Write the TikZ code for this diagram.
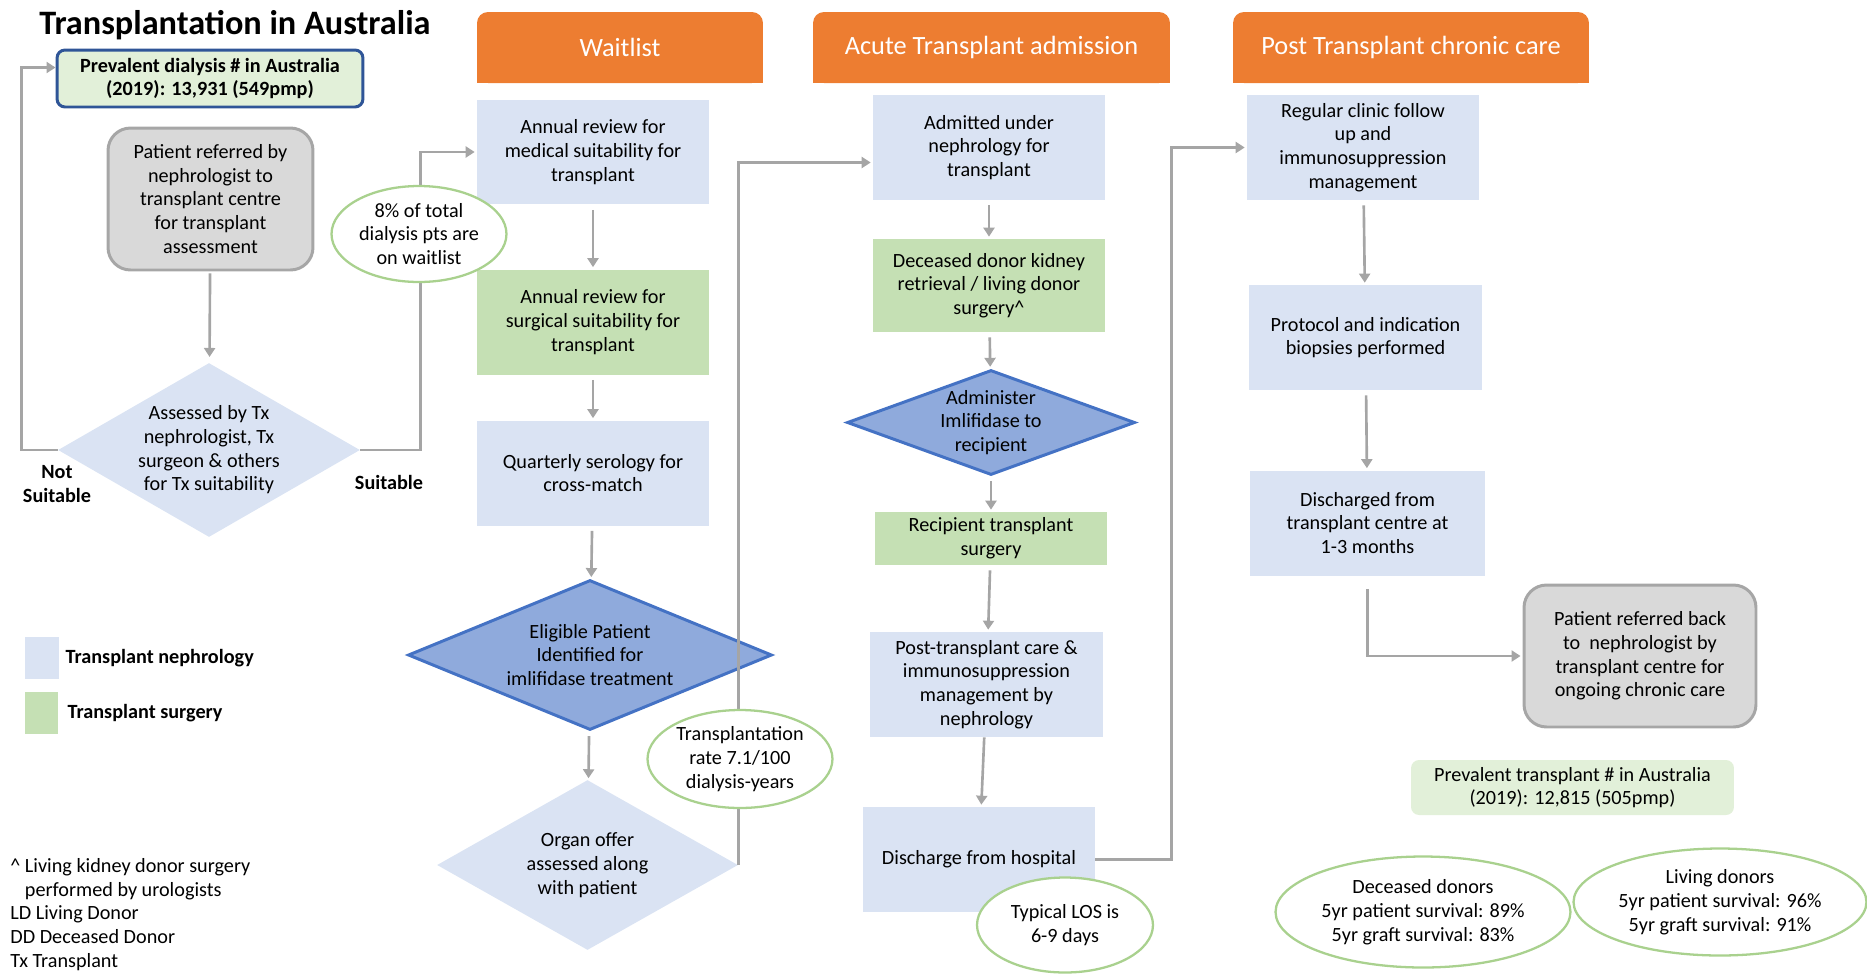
\documentclass[tikz,border=0pt]{standalone}
\usepackage{fontspec}
\setmainfont{Carlito}
\usetikzlibrary{arrows.meta,positioning,shapes.geometric,backgrounds}

\definecolor{nephblue}{HTML}{DAE3F3}
\definecolor{surggreen}{HTML}{C5E0B4}
\definecolor{palegreen}{HTML}{E2F0D9}
\definecolor{hdrorange}{HTML}{ED7D31}
\definecolor{imlblue}{HTML}{8FAADC}
\definecolor{imledge}{HTML}{4472C4}
\definecolor{darkedge}{HTML}{2F5597}
\definecolor{greybox}{HTML}{D9D9D9}
\definecolor{greyedge}{HTML}{A6A6A6}
\definecolor{linegrey}{HTML}{A5A5A5}
\definecolor{ovaledge}{HTML}{A9D18E}

\begin{document}
\begin{tikzpicture}[x=0.02cm, y=-0.02cm,
        font=\fontsize{11.5}{13.5}\selectfont,
        nbox/.style={fill=nephblue, align=center, inner sep=2pt, minimum width=4.64cm, minimum height=2.1cm},
        sbox/.style={nbox, fill=surggreen},
        gbox/.style={fill=greybox, draw=greyedge, line width=1.7pt, rounded corners=0.45cm, align=center, minimum height=2.84cm},
        dbox/.style={diamond, fill=nephblue, align=center, inner sep=0pt},
        ibox/.style={dbox, fill=imlblue, draw=imledge, line width=1.7pt},
        oval/.style={ellipse, draw=ovaledge, line width=1.3pt, fill=white, align=center, inner sep=0pt},
        countbox/.style={fill=palegreen, rounded corners=0.16cm, align=center},
        header/.style={fill=hdrorange, rounded corners=0.22cm, text=white, font=\fontsize{15}{18}\selectfont, minimum height=1.42cm},
        arr/.style={draw=linegrey, line width=1.5pt, -{Triangle[width=0.22cm, length=0.18cm]}},
        gap/.style={shorten <=0.1cm, shorten >=0.04cm},
        lbl/.style={font=\bfseries\fontsize{11.5}{13.5}\selectfont, align=center, inner sep=0pt},
        key/.style={minimum width=0.68cm, minimum height=0.84cm, inner sep=0pt}]
    \useasboundingbox (0,0) rectangle (1867,975);

    % title, referral and assessment
    \node[anchor=west, inner sep=0pt, font=\bfseries\fontsize{19.5}{23}\selectfont] (title) at (39,25) {Transplantation in Australia};
    \node[countbox, draw=darkedge, line width=1.7pt, minimum width=6.12cm, minimum height=1.14cm, font=\bfseries\fontsize{11.5}{13.5}\selectfont] (dialysis) at (210,78.5) {Prevalent dialysis \# in Australia\\(2019): 13,931 (549pmp)};
    \node[gbox, minimum width=4.1cm] (patient) at (210.5,199) {Patient referred by\\nephrologist to\\transplant centre\\for transplant\\assessment};
    \node[dbox, aspect=1.74, minimum width=6.04cm, minimum height=3.48cm] (assess) at (209,450) {Assessed by Tx\\nephrologist, Tx\\surgeon \& others\\for Tx suitability};
    \node[lbl] (notsuit) at (57,484) {Not\\Suitable};
    \node[lbl] (suit) at (389,482) {Suitable};

    % headers
    \node[header, minimum width=5.72cm] (hwait) at (620,47.5) {Waitlist};
    \node[header, minimum width=7.14cm] (hacute) at (991.5,47.5) {Acute Transplant admission};
    \node[header, minimum width=7.12cm] (hpost) at (1411,47.5) {Post Transplant chronic care};
    \begin{scope}[on background layer]
        \foreach \h in {hwait,hacute,hpost}
            \fill[hdrorange] (\h.west) rectangle (\h.south east);
    \end{scope}

    % waitlist
    \node[nbox] (medical) at (593,152) {Annual review for\\medical suitability for\\transplant};
    \node[sbox] (surgical) at (593,322) {Annual review for\\surgical suitability for\\transplant};
    \node[nbox] (serology) at (593,473) {Quarterly serology for\\cross-match};
    \node[ibox, aspect=2.43, minimum width=7.28cm, minimum height=3cm] (eligible) at (590,655) {Eligible Patient\\Identified for\\imlifidase treatment};
    \node[dbox, aspect=1.77, minimum width=6.02cm, minimum height=3.4cm] (offer) at (587.5,865) {Organ offer\\assessed along\\with patient};

    % acute admission
    \node[nbox] (admitted) at (989,147.5) {Admitted under\\nephrology for\\transplant};
    \node[sbox, minimum height=1.86cm] (retrieval) at (989,285.5) {Deceased donor kidney\\retrieval / living donor\\surgery\textasciicircum};
    \node[ibox, aspect=2.74, minimum width=5.76cm, minimum height=2.1cm] (administer) at (991,422.5) {Administer\\Imlifidase to\\recipient};
    \node[sbox, minimum height=1.06cm] (recipient) at (991,538.5) {Recipient transplant\\surgery};
    \node[nbox, minimum width=4.66cm] (postcare) at (986.5,684.5) {Post-transplant care \&\\immunosuppression\\management by\\nephrology};
    \node[nbox] (discharge) at (979,859.5) {Discharge from hospital};

    % chronic care
    \node[nbox] (clinic) at (1363,147.5) {Regular clinic follow\\up and\\immunosuppression\\management};
    \node[nbox, minimum width=4.66cm] (biopsy) at (1365.5,337.5) {Protocol and indication\\biopsies performed};
    \node[nbox, minimum width=4.7cm] (discharged) at (1367.5,523) {Discharged from\\transplant centre at\\1-3 months};
    \node[gbox, minimum width=4.64cm] (referback) at (1640,656) {Patient referred back\\to\ \ nephrologist by\\transplant centre for\\ongoing chronic care};
    \node[countbox, minimum width=6.46cm, minimum height=1.1cm] (prevtx) at (1572.5,787.5) {Prevalent transplant \# in Australia\\(2019): 12,815 (505pmp)};

    % connectors
    \draw[arr] (assess.west) -- ++(-36,0) |- ([yshift=0.22cm]dialysis.west);
    \draw[arr, shorten <=0.04cm, shorten >=0.12cm] (patient) -- (assess);
    \draw[arr, shorten >=0.04cm] (assess.east) -- ++(60,0) |- (medical.west);
    \draw[arr, gap] (medical) -- (surgical);
    \draw[arr, gap] (surgical) -- (serology);
    \draw[arr, gap] (serology) -- (eligible);
    \draw[arr, gap] (eligible) -- (offer);
    \draw[arr, shorten >=0.04cm] (offer.east) |- ([yshift=-0.3cm]admitted.west);
    \draw[arr, gap] (admitted) -- (retrieval);
    \draw[arr, gap] (retrieval) -- (administer);
    \draw[arr, gap] (administer) -- (recipient);
    \draw[arr, gap] (recipient) -- (postcare);
    \draw[arr, shorten >=0.04cm] (postcare) -- (discharge);
    \draw[arr, shorten >=0.04cm] (discharge.east) -- ++(76,0) |- (clinic.west);
    \draw[arr, gap] (clinic) -- (biopsy);
    \draw[arr, gap] (biopsy) -- (discharged);
    \draw[arr, shorten >=0.04cm] ([yshift=-0.26cm]discharged.south) |- (referback.west);

    % notes on top of the lines
    \node[oval, minimum width=3.5cm, minimum height=1.92cm] (waitshare) at (419,234) {8\% of total\\dialysis pts are\\on waitlist};
    \node[oval, minimum width=3.7cm, minimum height=1.96cm] (txrate) at (740,759) {Transplantation\\rate 7.1/100\\dialysis-years};
    \node[oval, minimum width=3.52cm, minimum height=1.9cm] (los) at (1065,925) {Typical LOS is\\6-9 days};
    \node[oval, minimum width=5.9cm, minimum height=2.22cm] (ddsurv) at (1423,912) {Deceased donors\\5yr patient survival: 89\%\\5yr graft survival: 83\%};
    \node[oval, minimum width=5.86cm, minimum height=2.14cm] (ldsurv) at (1720,902) {Living donors\\5yr patient survival: 96\%\\5yr graft survival: 91\%};

    % legend and abbreviations
    \node[key, fill=nephblue] (keyneph) at (42,658) {};
    \node[lbl, right=0.12cm of keyneph] (keynephtxt) {Transplant nephrology};
    \node[key, fill=surggreen] (keysurg) at (41.5,713) {};
    \node[lbl, right=0.17cm of keysurg] (keysurgtxt) {Transplant surgery};
    \node[anchor=north west, align=left, inner sep=0pt] (notes) at (10,858) {\textasciicircum\ Living kidney donor surgery\\\hphantom{\textasciicircum\ }performed by urologists\\LD Living Donor\\DD Deceased Donor\\Tx Transplant};
\end{tikzpicture}
\end{document}
